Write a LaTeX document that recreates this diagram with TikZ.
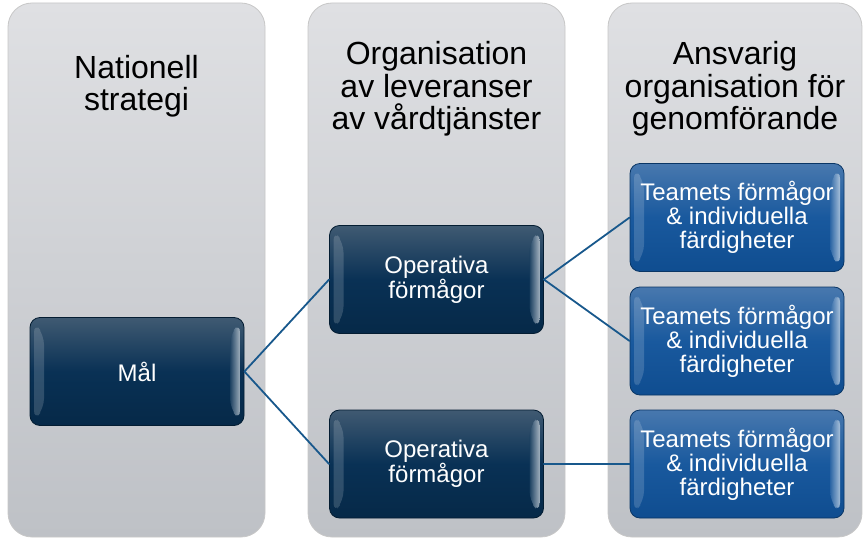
\documentclass[tikz,border=0pt]{standalone}
\usepackage{fontspec}
\setmainfont{Liberation Sans}
\usepackage{xcolor}
\usepackage{tikz}
\usetikzlibrary{calc}
\definecolor{panelTop}{RGB}{223,224,227}
\definecolor{panelBot}{RGB}{190,193,198}
\definecolor{goalTop}{RGB}{64,90,114}
\definecolor{goalMid}{RGB}{9,49,85}
\definecolor{goalBot}{RGB}{6,41,72}
\definecolor{teamTop}{RGB}{72,120,174}
\definecolor{teamMid}{RGB}{25,89,158}
\definecolor{teamBot}{RGB}{15,77,144}
\definecolor{linkBlue}{RGB}{24,88,140}

\begin{document}
\begin{tikzpicture}[line cap=round,line join=round,x=1pt,y=1pt,
	panel/.style={rounded corners=24pt,minimum width=257pt,minimum height=534pt,draw=black!22,line width=0.8pt,top color=panelTop,bottom color=panelBot,inner sep=0pt},
	heading/.style={align=center,font=\fontsize{32}{32.5}\selectfont,text=black,inner sep=0pt},
	bevel/.style={path picture={
		\fill[white,opacity=0.16] ($(path picture bounding box.north west)+(4pt,-5pt)$) -- ($(path picture bounding box.north west)+(14pt,-17pt)$) -- ($(path picture bounding box.south west)+(14pt,17pt)$) -- ($(path picture bounding box.south west)+(4pt,5pt)$) -- cycle;
		\shade[left color=white!10!#1,right color=white!75!#1,opacity=0.8] ($(path picture bounding box.north east)+(-4pt,-5pt)$) -- ($(path picture bounding box.north east)+(-14pt,-17pt)$) -- ($(path picture bounding box.south east)+(-14pt,17pt)$) -- ($(path picture bounding box.south east)+(-4pt,5pt)$) -- cycle;}},
	goalbox/.style={rounded corners=10pt,minimum width=214pt,minimum height=108pt,draw=goalBot!70!black,line width=0.8pt,top color=goalTop,bottom color=goalBot,middle color=goalMid,bevel=goalMid,align=center,text=white,font=\fontsize{24}{24}\selectfont,inner sep=0pt},
	teambox/.style={goalbox,draw=teamBot!70!black,top color=teamTop,bottom color=teamBot,middle color=teamMid,bevel=teamMid},
	link/.style={draw=linkBlue,line width=1.8pt}]
			\clip(0,0) rectangle (866,539);
			% columns
			\draw (136.5,269) node[panel] (col1) {};
			\draw (436.5,269) node[panel] (col2) {};
			\draw (735,269) node[panel,minimum width=254pt] (col3) {};
			\draw (136.5,453) node[heading] (h1) {Nationell\\strategi};
			\draw (436.5,450) node[heading] (h2) {Organisation\\av leveranser\\av vårdtjänster};
			\draw (735,450) node[heading] (h3) {Ansvarig\\organisation för\\genomförande};
			% boxes
			\draw (137,167.5) node[goalbox] (mal) {Mål};
			\draw (436.5,259.5) node[goalbox] (op1) {Operativa\\förmågor};
			\draw (436.5,75) node[goalbox] (op2) {Operativa\\förmågor};
			\draw (737,321.5) node[teambox] (team1) {Teamets förmågor\\\& individuella\\färdigheter};
			\draw (737,198) node[teambox] (team2) {Teamets förmågor\\\& individuella\\färdigheter};
			\draw (737,75) node[teambox] (team3) {Teamets förmågor\\\& individuella\\färdigheter};
			% connectors
			\draw [link] (mal.east) -- (op1.west);
			\draw [link] (mal.east) -- (op2.west);
			\draw [link] (op1.east) -- (team1.west);
			\draw [link] (op1.east) -- (team2.west);
			\draw [link] (op2.east) -- (team3.west);
			\end{tikzpicture}
\end{document}
